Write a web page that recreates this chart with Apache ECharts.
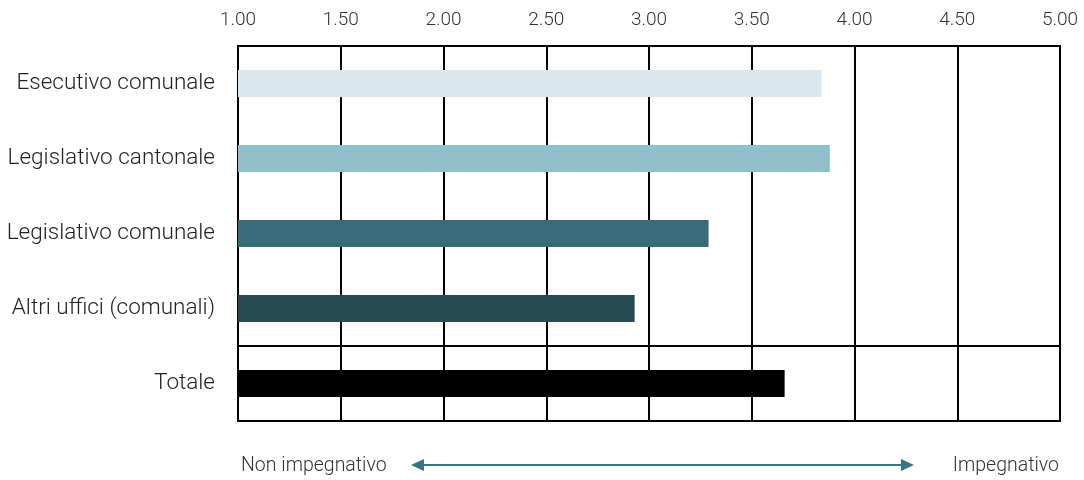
<!DOCTYPE html>
<html lang="it">

<head>
  <meta charset="UTF-8" />
  <title>Impegno carica</title>
  <script src="https://cdn.jsdelivr.net/npm/echarts@6/dist/echarts.min.js"></script>
  <style>
    html, body { margin: 0; padding: 0; background: #fff; }
  </style>
</head>

<body>
  <div id="main" style="width: 1084px;height:480px;"></div>
  <script type="text/javascript">
    // categorie (dall'alto verso il basso)
    const categories = ['Esecutivo comunale', 'Legislativo cantonale', 'Legislativo comunale', 'Altri uffici (comunali)', 'Totale']
    // valori medi
    const values = [3.84, 3.88, 3.29, 2.93, 3.66]
    const barColors = ['#dae8ee', '#90bfcc', '#396c7a', '#274a53', '#000000']
    const scaleMin = 1
    const scaleMax = 5
    const scaleStep = 0.5
    const leftLabel = 'Non impegnativo'
    const rightLabel = 'Impegnativo'

    const myChart = echarts.init(document.getElementById('main'))
    const font = 'Roboto'
    const arrowColor = '#3a7382'

    const option = {
      animation: false,
      grid: {
        left: 238,
        right: 24,
        top: 46,
        bottom: 59,
        show: true,
        borderColor: '#000',
        borderWidth: 2,
        backgroundColor: 'transparent'
      },
      xAxis: {
        type: 'value',
        position: 'top',
        min: scaleMin,
        max: scaleMax,
        interval: scaleStep,
        axisLine: { show: false },
        axisTick: { show: false },
        axisLabel: {
          margin: 16,
          fontFamily: font,
          fontWeight: 300,
          fontSize: 19,
          color: '#333',
          formatter: v => v.toFixed(2)
        },
        splitLine: { lineStyle: { color: '#000', width: 2 } }
      },
      yAxis: {
        type: 'category',
        inverse: true,
        data: categories,
        axisLine: { show: false },
        axisTick: { show: false },
        axisLabel: {
          margin: 23,
          fontFamily: font,
          fontWeight: 300,
          fontSize: 22.5,
          color: '#222'
        },
        // riga sopra il Totale (la prima coincide col bordo)
        splitLine: {
          show: true,
          interval: i => i === 0 || i === categories.length - 1,
          lineStyle: { color: '#000', width: 2 }
        }
      },
      series: [{
        type: 'bar',
        barWidth: 27,
        data: values.map((v, i) => ({ value: v, itemStyle: { color: barColors[i] } }))
      }],
      graphic: [
        {
          type: 'text', left: 241, top: 456,
          style: { text: leftLabel, font: '300 19.5px Roboto', fill: '#333' }
        },
        {
          type: 'text', right: 25, top: 456,
          style: { text: rightLabel, font: '300 19.5px Roboto', fill: '#333' }
        },
        {
          type: 'line',
          shape: { x1: 420, y1: 465, x2: 905, y2: 465 },
          style: { stroke: arrowColor, lineWidth: 2 }
        },
        {
          type: 'polygon',
          shape: { points: [[411, 465], [424, 459], [424, 471]] },
          style: { fill: arrowColor }
        },
        {
          type: 'polygon',
          shape: { points: [[914, 465], [901, 459], [901, 471]] },
          style: { fill: arrowColor }
        }
      ]
    }

    myChart.setOption(option)
  </script>
</body>

</html>
